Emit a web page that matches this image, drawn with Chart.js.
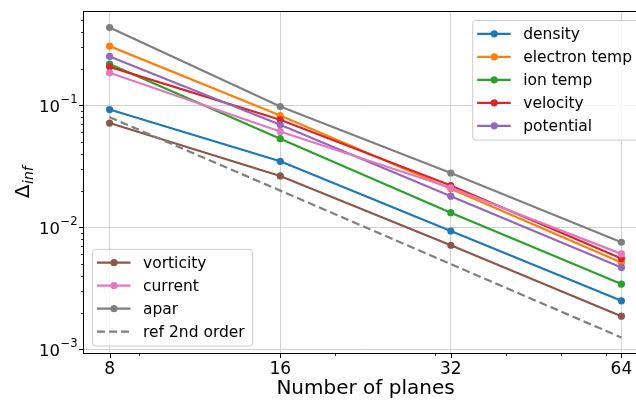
<!DOCTYPE html>
<html>
<head>
<meta charset="utf-8">
<script src="https://cdn.jsdelivr.net/npm/chart.js@4.4.1/dist/chart.umd.min.js"></script>
<style>
  html, body { margin: 0; padding: 0; background: #fff; overflow: hidden; }
  #wrap { width: 636px; height: 401px; overflow: hidden; position: relative; }
  canvas { display: block; }
</style>
</head>
<body>
<div id="wrap"><canvas id="chart" width="660" height="401"></canvas></div>
<script>
// values
const planes = [8, 16, 32, 64];
const density = [0.0924, 0.0348, 0.00933, 0.00250];
const electronTemp = [0.306, 0.0826, 0.0207, 0.00515];
const ionTemp = [0.218, 0.0533, 0.0132, 0.00343];
const velocity = [0.207, 0.0762, 0.0220, 0.00555];
const potential = [0.252, 0.0694, 0.0180, 0.00469];
const vorticity = [0.0716, 0.0264, 0.00713, 0.00187];
const current = [0.185, 0.0611, 0.0211, 0.00606];
const apar = [0.435, 0.0978, 0.0279, 0.00755];
const ref2nd = [0.08, 0.02, 0.005, 0.00125];

const seriesNames = ['density', 'electron temp', 'ion temp', 'velocity', 'potential',
                     'vorticity', 'current', 'apar', 'ref 2nd order'];
const seriesValues = [density, electronTemp, ionTemp, velocity, potential,
                      vorticity, current, apar, ref2nd];
const seriesColors = ['#1f77b4', '#ff7f0e', '#2ca02c', '#d62728', '#9467bd',
                      '#8c564b', '#e377c2', '#7f7f7f', '#7f7f7f'];

const xTicks = [8, 16, 32, 64];
const xMinorTicks = [9, 20, 30, 40, 50, 60, 70];
const yTicks = [1e-3, 1e-2, 1e-1];
const yMinorTicks = [];
[1e-3, 1e-2, 1e-1].forEach(d => { for (let k = 2; k <= 9; k++) yMinorTicks.push(k * d); });

const FONT = '"DejaVu Sans", sans-serif';
const CANVAS_W = 660;
const AXES_RIGHT = 647;

// matplotlib-like 5% margins in log space
function logLimits(values, base) {
  let lo = Math.min(...values), hi = Math.max(...values);
  let a = Math.log(lo) / Math.log(base), b = Math.log(hi) / Math.log(base);
  let m = (b - a) * 0.05;
  return [Math.pow(base, a - m), Math.pow(base, b + m)];
}
const [xMin, xMax] = logLimits(planes, 2);
const [yMin, yMax] = logLimits(seriesValues.flat(), 10);

const datasets = seriesNames.map((name, i) => {
  let isRef = i === seriesNames.length - 1;
  return {
    label: name,
    data: planes.map((x, j) => ({ x: x, y: seriesValues[i][j] })),
    borderColor: seriesColors[i],
    backgroundColor: seriesColors[i],
    pointBackgroundColor: seriesColors[i],
    borderWidth: 2.2,
    borderDash: isRef ? [8, 4] : [],
    pointRadius: isRef ? 0 : 3.6,
    pointBorderWidth: 0,
    order: seriesNames.length - i,
    legendGroup: i < 5 ? 0 : 1,
  };
});

function drawLegend(ctx, items, opts) {
  const fs = 15.5, spacing = 23;
  ctx.font = `${fs}px ${FONT}`;
  let textW = Math.max(...items.map(d => ctx.measureText(d.label).width));
  let w = 51 + textW + 7.5;
  let h = 27.6 + (items.length - 1) * spacing;
  let x = opts.right !== undefined ? opts.right - w : opts.left;
  let y = opts.bottom !== undefined ? opts.bottom - h : opts.top;

  ctx.save();
  ctx.beginPath();
  ctx.roundRect(x + 0.5, y + 0.5, w, h, 3);
  ctx.fillStyle = 'rgba(255,255,255,0.8)';
  ctx.fill();
  ctx.strokeStyle = '#cccccc';
  ctx.lineWidth = 1;
  ctx.stroke();

  items.forEach((d, i) => {
    let cy = y + 13.8 + i * spacing;
    ctx.beginPath();
    ctx.setLineDash(d.borderDash);
    ctx.strokeStyle = d.borderColor;
    ctx.lineWidth = d.borderWidth;
    ctx.moveTo(x + 5, cy);
    ctx.lineTo(x + 38.5, cy);
    ctx.stroke();
    ctx.setLineDash([]);
    if (d.pointRadius > 0) {
      ctx.beginPath();
      ctx.fillStyle = d.pointBackgroundColor;
      ctx.arc(x + 22, cy, d.pointRadius, 0, Math.PI * 2);
      ctx.fill();
    }
    ctx.fillStyle = '#000';
    ctx.textAlign = 'left';
    ctx.textBaseline = 'middle';
    ctx.font = `${fs}px ${FONT}`;
    ctx.fillText(d.label, x + 51, cy + 1);
  });
  ctx.restore();
}

const axesDecor = {
  id: 'axesDecor',
  afterDraw(chart) {
    const ctx = chart.ctx;
    const area = chart.chartArea;
    const xs = chart.scales.x, ys = chart.scales.y;
    ctx.save();

    // frame
    ctx.strokeStyle = '#000';
    ctx.lineWidth = 1;
    ctx.strokeRect(Math.round(area.left) - 0.5, Math.round(area.top) - 0.5,
                   area.right - area.left + 1, area.bottom - area.top + 1);

    // tick marks
    ctx.beginPath();
    xTicks.forEach(v => {
      let px = Math.round(xs.getPixelForValue(v)) + 0.5;
      ctx.moveTo(px, area.bottom); ctx.lineTo(px, area.bottom + 5);
    });
    yTicks.forEach(v => {
      let py = Math.round(ys.getPixelForValue(v)) + 0.5;
      ctx.moveTo(area.left, py); ctx.lineTo(area.left - 5, py);
    });
    ctx.lineWidth = 1;
    ctx.stroke();
    ctx.beginPath();
    xMinorTicks.forEach(v => {
      if (v < xMin || v > xMax) return;
      let px = Math.round(xs.getPixelForValue(v)) + 0.5;
      ctx.moveTo(px, area.bottom); ctx.lineTo(px, area.bottom + 3);
    });
    yMinorTicks.forEach(v => {
      if (v < yMin || v > yMax) return;
      let py = Math.round(ys.getPixelForValue(v)) + 0.5;
      ctx.moveTo(area.left, py); ctx.lineTo(area.left - 3, py);
    });
    ctx.lineWidth = 0.8;
    ctx.stroke();

    // y tick labels 10^k
    ctx.fillStyle = '#000';
    ctx.textBaseline = 'alphabetic';
    ctx.textAlign = 'left';
    yTicks.forEach(v => {
      let py = ys.getPixelForValue(v);
      let exp = Math.round(Math.log10(v));
      let sup = (exp < 0 ? '\u2212' : '') + Math.abs(exp);
      ctx.font = `16.5px ${FONT}`;
      let w1 = ctx.measureText('10').width;
      ctx.font = `11.5px ${FONT}`;
      let w2 = ctx.measureText(sup).width;
      let x0 = area.left - 7 - w1 - w2;
      ctx.font = `16.5px ${FONT}`;
      ctx.fillText('10', x0, py + 6.5);
      ctx.font = `11.5px ${FONT}`;
      ctx.fillText(sup, x0 + w1 + 0.5, py - 2);
    });

    // y axis title: Delta_inf
    ctx.save();
    ctx.translate(28.5, (area.top + area.bottom) / 2);
    ctx.rotate(-Math.PI / 2);
    ctx.font = `20px ${FONT}`;
    let wd = ctx.measureText('\u0394').width;
    ctx.font = `italic 14px ${FONT}`;
    let ws = ctx.measureText('inf').width;
    let sx = -(wd + ws) / 2;
    ctx.font = `20px ${FONT}`;
    ctx.fillText('\u0394', sx, 0);
    ctx.font = `italic 14px ${FONT}`;
    ctx.fillText('inf', sx + wd + 0.5, 4);
    ctx.restore();

    // legends
    const all = chart.data.datasets;
    drawLegend(ctx, all.filter(d => d.legendGroup === 0), { right: AXES_RIGHT - 7.5, top: area.top + 8 });
    drawLegend(ctx, all.filter(d => d.legendGroup === 1), { left: area.left + 8, bottom: area.bottom - 7.5 });
    ctx.restore();
  }
};

new Chart(document.getElementById('chart'), {
  type: 'line',
  data: { datasets: datasets },
  options: {
    responsive: false,
    animation: false,
    events: [],
    layout: { padding: { left: 0, top: 12, right: CANVAS_W - AXES_RIGHT, bottom: 0 } },
    plugins: { legend: { display: false }, tooltip: { enabled: false } },
    scales: {
      x: {
        type: 'logarithmic',
        min: xMin,
        max: xMax,
        afterBuildTicks: s => { s.ticks = xTicks.map(v => ({ value: v })); },
        afterFit: s => { s.height = 48; },
        ticks: {
          callback: v => String(v),
          autoSkip: false,
          maxRotation: 0,
          padding: 6,
          color: '#000',
          font: { family: FONT, size: 17 },
        },
        grid: { color: '#d0d0d0', lineWidth: 1, drawTicks: false },
        border: { display: false },
        title: {
          display: true,
          text: 'Number of planes',
          color: '#000',
          padding: 0,
          font: { family: FONT, size: 20 },
        },
      },
      y: {
        type: 'logarithmic',
        min: yMin,
        max: yMax,
        afterBuildTicks: s => { s.ticks = yTicks.map(v => ({ value: v })); },
        afterFit: s => { s.width = 84; },
        ticks: { display: false },
        grid: { color: '#d0d0d0', lineWidth: 1, drawTicks: false },
        border: { display: false },
      },
    },
  },
  plugins: [axesDecor],
});
</script>
</body>
</html>
